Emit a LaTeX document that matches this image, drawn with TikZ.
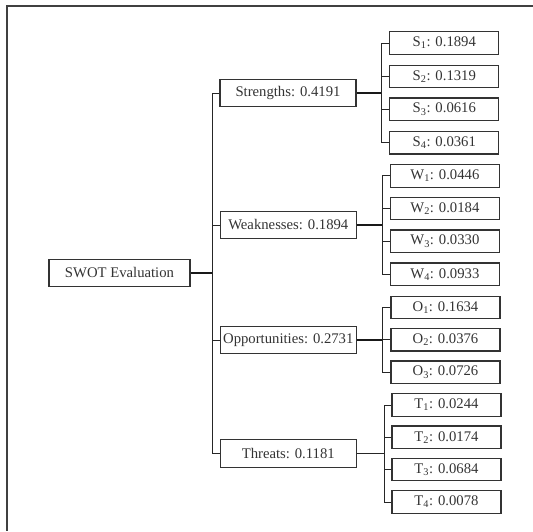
\documentclass[tikz,border=0pt]{standalone}
\usepackage{fontspec}
\setmainfont{Liberation Serif}
\begin{document}
\begin{tikzpicture}[x=1pt,y=-1pt,
  every node/.style={font=\fontsize{14.7}{16}\selectfont, text=black!80},
  leafbox/.style={draw=black!80, line width=1.1pt, minimum width=109pt, minimum height=22.5pt, inner sep=0pt},
  midbox/.style={draw=black!80, line width=1.1pt, minimum width=136pt, minimum height=27.5pt, inner sep=0pt},
  rootbox/.style={draw=black!80, line width=1.1pt, minimum width=141pt, minimum height=26.7pt, inner sep=0pt},
  conn/.style={draw=black!85, line width=0.9pt},
  thickconn/.style={draw=black!90, line width=2pt},
  frameline/.style={draw=black!75, line width=1.4pt}]
\useasboundingbox (0,0) rectangle (533,531);
% frame (cropped: only top and left visible)
\draw[frameline] (533,6) -- (7,6) -- (7,531);

% root
\node[rootbox] (swot) at (119.5,273) {SWOT Evaluation};

% mid level
\node[midbox] (str) at (288,93) {Strengths: 0.4191};
\node[midbox] (wea) at (288.3,225) {Weaknesses: 0.1894};
\node[midbox] (opp) at (288.3,340) {Opportunities: 0.2731};
\node[midbox] (thr) at (288.3,453.5) {Threats: 0.1181};

% leaves
\node[leafbox] (s1) at (444.3,43) {S\textsubscript{1}: 0.1894};
\node[leafbox] (s2) at (444.3,76.3) {S\textsubscript{2}: 0.1319};
\node[leafbox] (s3) at (444.3,109.2) {S\textsubscript{3}: 0.0616};
\node[leafbox] (s4) at (444.3,142.7) {S\textsubscript{4}: 0.0361};

\node[leafbox] (w1) at (444.9,175.8) {W\textsubscript{1}: 0.0446};
\node[leafbox] (w2) at (444.9,208.3) {W\textsubscript{2}: 0.0184};
\node[leafbox] (w3) at (444.9,241.2) {W\textsubscript{3}: 0.0330};
\node[leafbox] (w4) at (444.9,274.2) {W\textsubscript{4}: 0.0933};

\node[leafbox] (o1) at (445.5,307.3) {O\textsubscript{1}: 0.1634};
\node[leafbox] (o2) at (445.5,339.7) {O\textsubscript{2}: 0.0376};
\node[leafbox] (o3) at (445.5,372.2) {O\textsubscript{3}: 0.0726};

\node[leafbox] (t1) at (446.5,405) {T\textsubscript{1}: 0.0244};
\node[leafbox] (t2) at (446.5,437.2) {T\textsubscript{2}: 0.0174};
\node[leafbox] (t3) at (446.5,469.5) {T\textsubscript{3}: 0.0684};
\node[leafbox] (t4) at (446.5,502) {T\textsubscript{4}: 0.0078};

% bus coordinates
\coordinate (trunk) at (212.5,0);
\coordinate (bS) at (381.7,0);
\coordinate (bW) at (382.7,0);
\coordinate (bO) at (382.7,0);
\coordinate (bT) at (384,0);

% root to mid
\draw[thickconn] (swot.east) -- (swot.east -| trunk);
\draw[conn] (str.west) -- (str.west -| trunk) -- (thr.west -| trunk) -- (thr.west);
\draw[conn] (wea.west) -- (wea.west -| trunk);
\draw[conn] (opp.west) -- (opp.west -| trunk);

% strengths group
\draw[thickconn] (str.east) -- (str.east -| bS);
\draw[conn] (s1.west) -- (s1.west -| bS) -- (s4.west -| bS) -- (s4.west);
\draw[conn] (s2.west) -- (s2.west -| bS);
\draw[conn] (s3.west) -- (s3.west -| bS);

% weaknesses group
\draw[thickconn] (wea.east) -- (wea.east -| bW);
\draw[conn] (w1.west) -- (w1.west -| bW) -- (w4.west -| bW) -- (w4.west);
\draw[conn] (w2.west) -- (w2.west -| bW);
\draw[conn] (w3.west) -- (w3.west -| bW);

% opportunities group
\draw[thickconn] (opp.east) -- (opp.east -| bO);
\draw[conn] (o1.west) -- (o1.west -| bO) -- (o3.west -| bO) -- (o3.west);
\draw[conn] (o2.west) -- (o2.west -| bO);

% threats group
\draw[conn] (thr.east) -- (thr.east -| bT);
\draw[conn] (t1.west) -- (t1.west -| bT) -- (t4.west -| bT) -- (t4.west);
\draw[conn] (t2.west) -- (t2.west -| bT);
\draw[conn] (t3.west) -- (t3.west -| bT);
\end{tikzpicture}
\end{document}
